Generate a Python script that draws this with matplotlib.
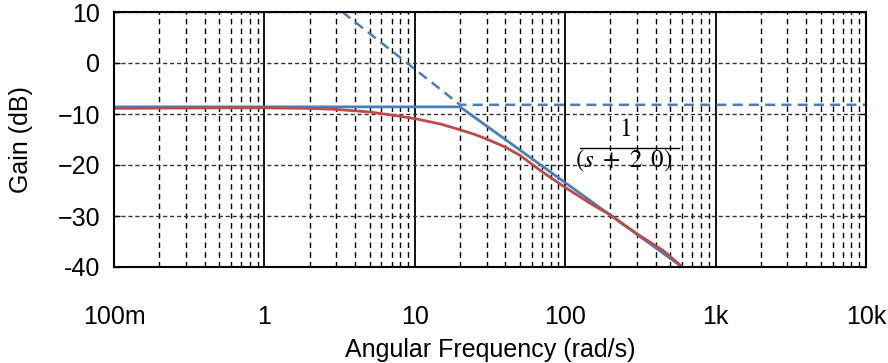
import matplotlib
matplotlib.use("Agg")
import matplotlib.pyplot as plt
from matplotlib.ticker import FixedLocator, NullFormatter
import numpy as np

plt.rcParams['font.family'] = ['Liberation Sans', 'DejaVu Sans']
plt.rcParams['mathtext.fontset'] = 'stix'

# decade ticks
x_ticks = [0.1, 1, 10, 100, 1000, 10000]
x_labels = ['100m', '1', '10', '100', '1k', '10k']
y_ticks = [10, 0, -10, -20, -30, -40]
y_labels = ['10', '0', '\u221210', '\u221220', '\u221230', '-40']

# straight-line (asymptote) approximation, solid blue
asym_w = [0.1, 20, 600]
asym_db = [-8.6, -8.6, -40]

# dashed guide lines (low-freq level and -20 dB/dec line)
guide_w = [3.3, 20, 10000]
guide_db = [10, -8.2, -8.2]

# actual gain curve, red
gain_w = [0.1, 0.5, 1, 2, 3, 5, 7, 10, 15, 20, 25, 30, 40, 50, 70, 100,
          150, 200, 300, 450, 600]
gain_db = [-8.9, -8.8, -8.8, -8.9, -9.1, -9.6, -10.2, -10.9, -12.0, -13.1,
           -14.0, -14.9, -16.5, -18.1, -21.3, -24.4, -27.7, -29.8, -33.5,
           -36.8, -40.0]

blue = '#4a7ebb'
red = '#be4b48'

fig = plt.figure(figsize=(8.88, 3.63), dpi=100)
ax = fig.add_axes([114 / 888, 1 - 267 / 363, 752 / 888, 255 / 363])

ax.set_xscale('log')
ax.set_xlim(0.1, 10000)
ax.set_ylim(-40, 10)

# grid
ax.xaxis.set_major_locator(FixedLocator(x_ticks))
ax.xaxis.set_minor_locator(FixedLocator(
    [m * 10.0 ** e for e in range(-1, 4) for m in range(2, 10)]))
ax.xaxis.set_minor_formatter(NullFormatter())
ax.set_xticklabels(x_labels)
ax.set_yticks(y_ticks)
ax.set_yticklabels(y_labels)
ax.grid(True, which='major', axis='x', color='black', lw=1.3, ls='-')
ax.grid(True, which='minor', axis='x', color='black', lw=1.0,
        ls=(0, (4, 3)))
ax.grid(True, which='major', axis='y', color='#333333', lw=1.0,
        ls=(0, (3, 2)))
ax.set_axisbelow(True)

ax.plot(guide_w, guide_db, color=blue, lw=1.8, ls=(0, (4, 2.5)))
ax.plot(asym_w, asym_db, color=blue, lw=2.0)
ax.plot(gain_w, gain_db, color=red, lw=2.0)

for s in ax.spines.values():
    s.set_color('black')
    s.set_linewidth(1.5)

ax.tick_params(axis='both', which='both', length=0, labelsize=18)
ax.tick_params(axis='x', pad=27)
ax.tick_params(axis='y', pad=10)
ax.tick_params(axis='y', right=True, direction='in', length=4, width=1)

ax.set_xlabel('Angular Frequency (rad/s)', fontsize=18)
ax.set_ylabel('Gain (dB)', fontsize=18)
ax.xaxis.label.set_va('center')
ax.yaxis.label.set_va('center')
ax.xaxis.set_label_coords(0.5, -0.325)
ax.yaxis.set_label_coords(-0.124, 0.5)

# transfer function label
ax.text(250, -13.0, '$1$', fontsize=18, ha='center', va='center')
ax.text(245, -19.2, r'$(s\ +\ 2\,\ 0)$', fontsize=18, ha='center', va='center')
ax.plot([125, 570], [-16.6, -16.6], color='black', lw=1.0)

fig.savefig('out.png', dpi=100)
